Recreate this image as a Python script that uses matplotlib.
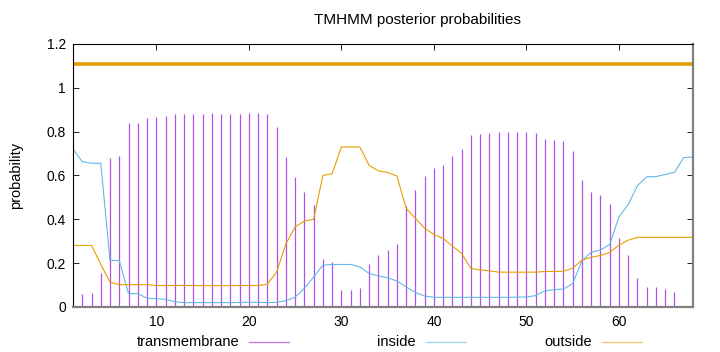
import matplotlib.pyplot as plt
from matplotlib.lines import Line2D
from matplotlib.ticker import MultipleLocator, FormatStrFormatter

plt.rcParams['font.family'] = ['Liberation Sans', 'DejaVu Sans']

positions = list(range(1, 69))

transmembrane = [
    0.0, 0.058, 0.064, 0.154, 0.678, 0.687, 0.838, 0.838, 0.864, 0.869,
    0.872, 0.881, 0.882, 0.882, 0.882, 0.883, 0.882, 0.882, 0.882, 0.883,
    0.885, 0.881, 0.821, 0.684, 0.591, 0.525, 0.464, 0.218, 0.205, 0.078,
    0.078, 0.087, 0.197, 0.237, 0.260, 0.287, 0.463, 0.536, 0.598, 0.632,
    0.649, 0.690, 0.719, 0.783, 0.791, 0.795, 0.800, 0.800, 0.800, 0.798,
    0.792, 0.768, 0.763, 0.756, 0.713, 0.580, 0.525, 0.511, 0.469, 0.315,
    0.235, 0.133, 0.092, 0.089, 0.081, 0.067, 0.0, 0.0,
]

inside = [
    0.721, 0.663, 0.656, 0.656, 0.212, 0.212, 0.061, 0.061, 0.040, 0.038,
    0.035, 0.024, 0.020, 0.020, 0.020, 0.020, 0.020, 0.020, 0.021, 0.021,
    0.021, 0.020, 0.021, 0.029, 0.045, 0.085, 0.136, 0.191, 0.194, 0.194,
    0.194, 0.183, 0.153, 0.142, 0.133, 0.119, 0.092, 0.066, 0.050, 0.044,
    0.044, 0.044, 0.044, 0.044, 0.044, 0.044, 0.044, 0.044, 0.045, 0.046,
    0.052, 0.074, 0.079, 0.082, 0.107, 0.211, 0.250, 0.260, 0.285, 0.412,
    0.467, 0.554, 0.594, 0.595, 0.605, 0.615, 0.682, 0.684,
]

outside = [
    0.281, 0.281, 0.281, 0.195, 0.113, 0.102, 0.102, 0.102, 0.102, 0.098,
    0.098, 0.098, 0.098, 0.098, 0.097, 0.097, 0.097, 0.097, 0.098, 0.098,
    0.098, 0.104, 0.159, 0.287, 0.366, 0.392, 0.400, 0.600, 0.608, 0.730,
    0.730, 0.730, 0.646, 0.621, 0.614, 0.598, 0.450, 0.405, 0.359, 0.331,
    0.313, 0.278, 0.244, 0.176, 0.169, 0.165, 0.159, 0.159, 0.159, 0.159,
    0.159, 0.162, 0.162, 0.163, 0.177, 0.214, 0.227, 0.235, 0.249, 0.282,
    0.305, 0.318, 0.318, 0.318, 0.318, 0.318, 0.318, 0.318,
]

topology_level = 1.11

tm_color = '#b050e8'
in_color = '#62b8ea'
out_color = '#e69f00'

fig = plt.figure(figsize=(7.2, 3.52), dpi=100)
ax = fig.add_axes([73 / 720, 1 - 307 / 352, 620 / 720, 263 / 352])

ax.vlines(positions, 0, transmembrane, color=tm_color, linewidth=0.9)
ax.plot(positions, inside, color=in_color, linewidth=0.8)
ax.plot(positions, outside, color=out_color, linewidth=0.8)
ax.plot([positions[0], positions[-1]], [topology_level, topology_level],
        color=out_color, linewidth=2.6, solid_capstyle='butt')

ax.set_xlim(1, 68)
ax.set_ylim(0, 1.2)

ax.xaxis.set_major_locator(MultipleLocator(10))
ax.yaxis.set_major_locator(MultipleLocator(0.2))
ax.yaxis.set_major_formatter(FormatStrFormatter('%g'))
ax.tick_params(which='major', direction='in', length=4, width=0.6,
               top=True, right=True, labelsize=10, pad=5, colors='#000000')
ax.tick_params(axis='x', pad=6)

for side in ['left', 'top']:
    ax.spines[side].set_linewidth(0.8)
    ax.spines[side].set_color('#000000')
for side in ['right', 'bottom']:
    ax.spines[side].set_linewidth(1.6)
    ax.spines[side].set_color('#808080')

ax.set_ylabel('probability', fontsize=10.5, labelpad=17)
fig.text(417 / 720, 1 - 20 / 352, 'TMHMM posterior probabilities',
         ha='center', va='center', fontsize=11)

# key below the plot, gnuplot style: text then sample
key_labels = ['transmembrane', 'inside', 'outside']
key_colors = ['#c080e8', '#a8d4ec', '#f0c878']
key_y = 1 - 342 / 352
for i, (label, color) in enumerate(zip(key_labels, key_colors)):
    x0 = (249 + 176.5 * i) / 720
    fig.text(x0 - 10 / 720, key_y, label, ha='right', va='center', fontsize=10.5)
    fig.add_artist(Line2D([x0, x0 + 40 / 720], [key_y, key_y],
                          color=color, linewidth=1.0))

fig.savefig('out.png', dpi=100)
